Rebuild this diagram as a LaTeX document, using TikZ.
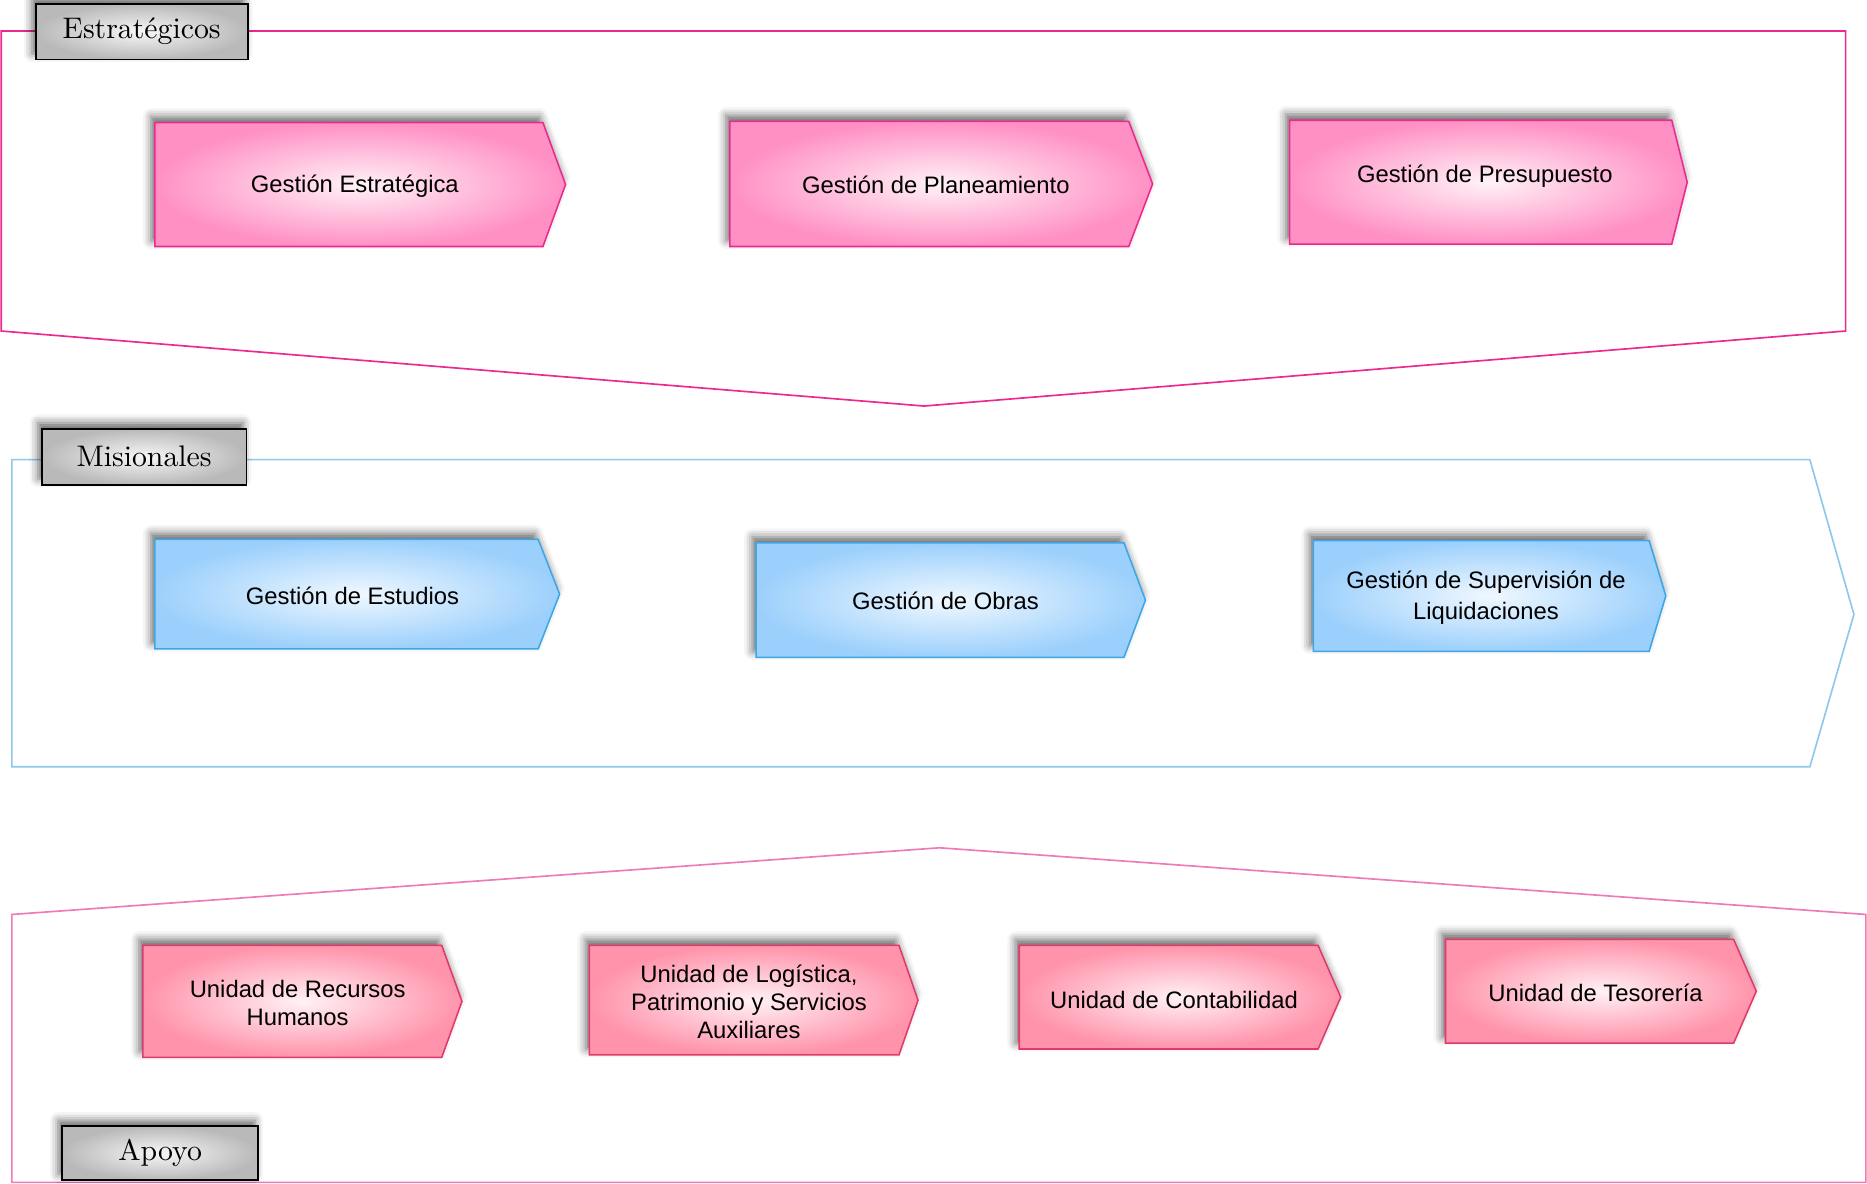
\documentclass[tikz,border=0pt]{standalone}
\usepackage{fontspec}
\newfontfamily\arialf{Liberation Sans}
\newfontfamily\lblfont{lmroman10-regular}[Extension=.otf]
\usetikzlibrary{shadows.blur}
\definecolor{stratline}{HTML}{EC2A8E}
\definecolor{misline}{HTML}{8FC9EA}
\definecolor{apoline}{HTML}{F07AB8}
\definecolor{stratedge}{HTML}{FF90C4}
\definecolor{stratin}{HTML}{FFF2F7}
\definecolor{stratbd}{HTML}{EC2A8E}
\definecolor{misedge}{HTML}{9CD0FC}
\definecolor{misin}{HTML}{F0F8FF}
\definecolor{misbd}{HTML}{3FA6E6}
\definecolor{apoedge}{HTML}{FF93AB}
\definecolor{apoin}{HTML}{FFF2F5}
\definecolor{apobd}{HTML}{E03A6C}
\tikzset{
  myshadow/.style={blur shadow={shadow xshift=-3pt, shadow yshift=5pt, shadow blur radius=7pt, shadow opacity=60}},
  lbl/.style={draw=black, line width=1.6pt, inner color=gray!6, outer color=gray!55, font=\lblfont\fontsize{25}{30}\selectfont, inner sep=0pt, myshadow},
  boxtxt/.style={font=\arialf\fontsize{20}{23.5}\selectfont, align=center, inner sep=0pt, text=black},
  stratbox/.style={draw=stratbd, line width=1.3pt, inner color=stratin, outer color=stratedge, myshadow},
  misbox/.style={draw=misbd, line width=1.3pt, inner color=misin, outer color=misedge, myshadow},
  apobox/.style={draw=apobd, line width=1.3pt, inner color=apoin, outer color=apoedge, myshadow},
  frame/.style={line width=1.4pt, line join=miter},
}
\newcommand\chevbox[9]{%
  \path[#2] (#3,#4) -- (#5,#4) -- (#7,{(#4+#6)/2}) -- (#5,#6) -- (#3,#6) -- cycle;
  \node[boxtxt] (#1) at #8 {#9};
}
\begin{document}
\begin{tikzpicture}[x=1pt,y=-1pt]
\useasboundingbox (0,0) rectangle (1568,994);
% frames
\draw[frame, draw=stratline] (1,26) -- (1550,26) -- (1550,278) -- (776,341) -- (1,278) -- cycle;
\draw[frame, draw=misline] (10,386) -- (1520,386) -- (1557,516) -- (1520,644) -- (10,644) -- cycle;
\draw[frame, draw=apoline] (10,768) -- (789,712) -- (1567,768) -- (1567,993) -- (10,993) -- cycle;
% labels
\node[lbl, minimum width=178pt, minimum height=47pt] (lstrat) at (119,26.5) {Estratégicos};
\node[lbl, minimum width=172pt, minimum height=47pt] (lmis) at (121,383.5) {Misionales};
\node[lbl, minimum width=165pt, minimum height=45pt] (lapo) at (134.5,968.5) {Apoyo};
% strategic
\chevbox{ge}{stratbox}{130}{103}{456}{207}{475}{(298,156)}{Gestión Estratégica}
\chevbox{gp}{stratbox}{613}{102}{948}{207}{968}{(786,155)}{Gestión de Planeamiento}
\chevbox{gpr}{stratbox}{1083}{101}{1404}{205}{1417}{(1247,148)}{Gestión de Presupuesto}
% misionales
\chevbox{gest}{misbox}{130}{453}{452}{545}{470}{(296,500)}{Gestión de Estudios}
\chevbox{gob}{misbox}{635}{456}{944}{552}{962}{(794,505)}{Gestión de Obras}
\chevbox{gsup}{misbox}{1103}{454}{1385}{547}{1399}{(1248,502)}{Gestión de Supervisión de\\[3pt]Liquidaciones}
% apoyo
\chevbox{urh}{apobox}{120}{794}{371}{888}{388}{(250,842)}{Unidad de Recursos\\Humanos}
\chevbox{ulog}{apobox}{495}{794}{755}{886}{771}{(629,841)}{Unidad de Logística,\\Patrimonio y Servicios\\Auxiliares}
\chevbox{ucon}{apobox}{856}{794}{1107}{881}{1126}{(986,840)}{Unidad de Contabilidad}
\chevbox{utes}{apobox}{1214}{789}{1456}{876}{1475}{(1340,834)}{Unidad de Tesorería}
\end{tikzpicture}
\end{document}
